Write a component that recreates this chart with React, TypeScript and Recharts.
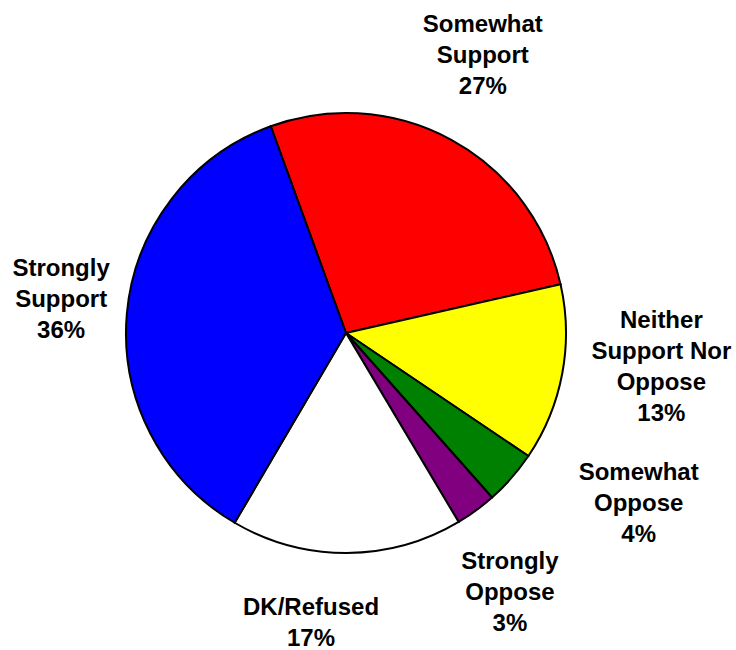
import { PieChart, Pie, Cell } from "recharts";

// slices in clockwise order, starting at the red one
const categories = [
  "Somewhat\nSupport",
  "Neither\nSupport Nor\nOppose",
  "Somewhat\nOppose",
  "Strongly\nOppose",
  "DK/Refused",
  "Strongly\nSupport",
];
const shares = [27, 13, 4, 3, 17, 36];
const colors = ["#FF0000", "#FFFF00", "#008000", "#800080", "#FFFFFF", "#0000FF"];

const data = categories.map((name, i) => ({ name, value: shares[i] }));

// label placement tweaks: [clockwise angle shift in degrees, distance from center]
const labelNudge: [number, number][] = [
  [-2.5, 311],
  [-4.8, 317],
  [-11.2, 338],
  [3.8, 306],
  [7.1, 291],
  [1.8, 287],
];

const RAD = Math.PI / 180;
const LINE = 31;

function renderLabel(props: any) {
  const { cx, cy, midAngle, index, value } = props;
  const [shift, dist] = labelNudge[index];
  const a = (midAngle - shift) * RAD;
  const x = cx + dist * Math.cos(a);
  const y = cy - dist * Math.sin(a);
  const lines = [...categories[index].split("\n"), `${value}%`];
  const top = y - ((lines.length - 1) * LINE) / 2 + 9;
  return (
    <text
      key={`lbl-${index}`}
      x={x}
      y={top}
      textAnchor="middle"
      fontFamily="'Liberation Sans', Arial, sans-serif"
      fontWeight="bold"
      fontSize={24}
      fill="#000"
    >
      {lines.map((l, i) => (
        <tspan key={i} x={x} dy={i === 0 ? 0 : LINE}>
          {l}
        </tspan>
      ))}
    </text>
  );
}

export default function App() {
  return (
    <div style={{ width: 736, height: 650, background: "#fff" }}>
      <style>{"body{margin:0}"}</style>
      <PieChart width={736} height={650} margin={{ top: 0, right: 0, bottom: 0, left: 0 }}>
        <Pie
          data={data}
          dataKey="value"
          nameKey="name"
          cx={346}
          cy={333}
          outerRadius={220}
          startAngle={110}
          endAngle={-250}
          stroke="#000"
          strokeWidth={2}
          label={renderLabel}
          labelLine={false}
          isAnimationActive={false}
        >
          {data.map((d, i) => (
            <Cell key={d.name} fill={colors[i]} />
          ))}
        </Pie>
      </PieChart>
    </div>
  );
}
